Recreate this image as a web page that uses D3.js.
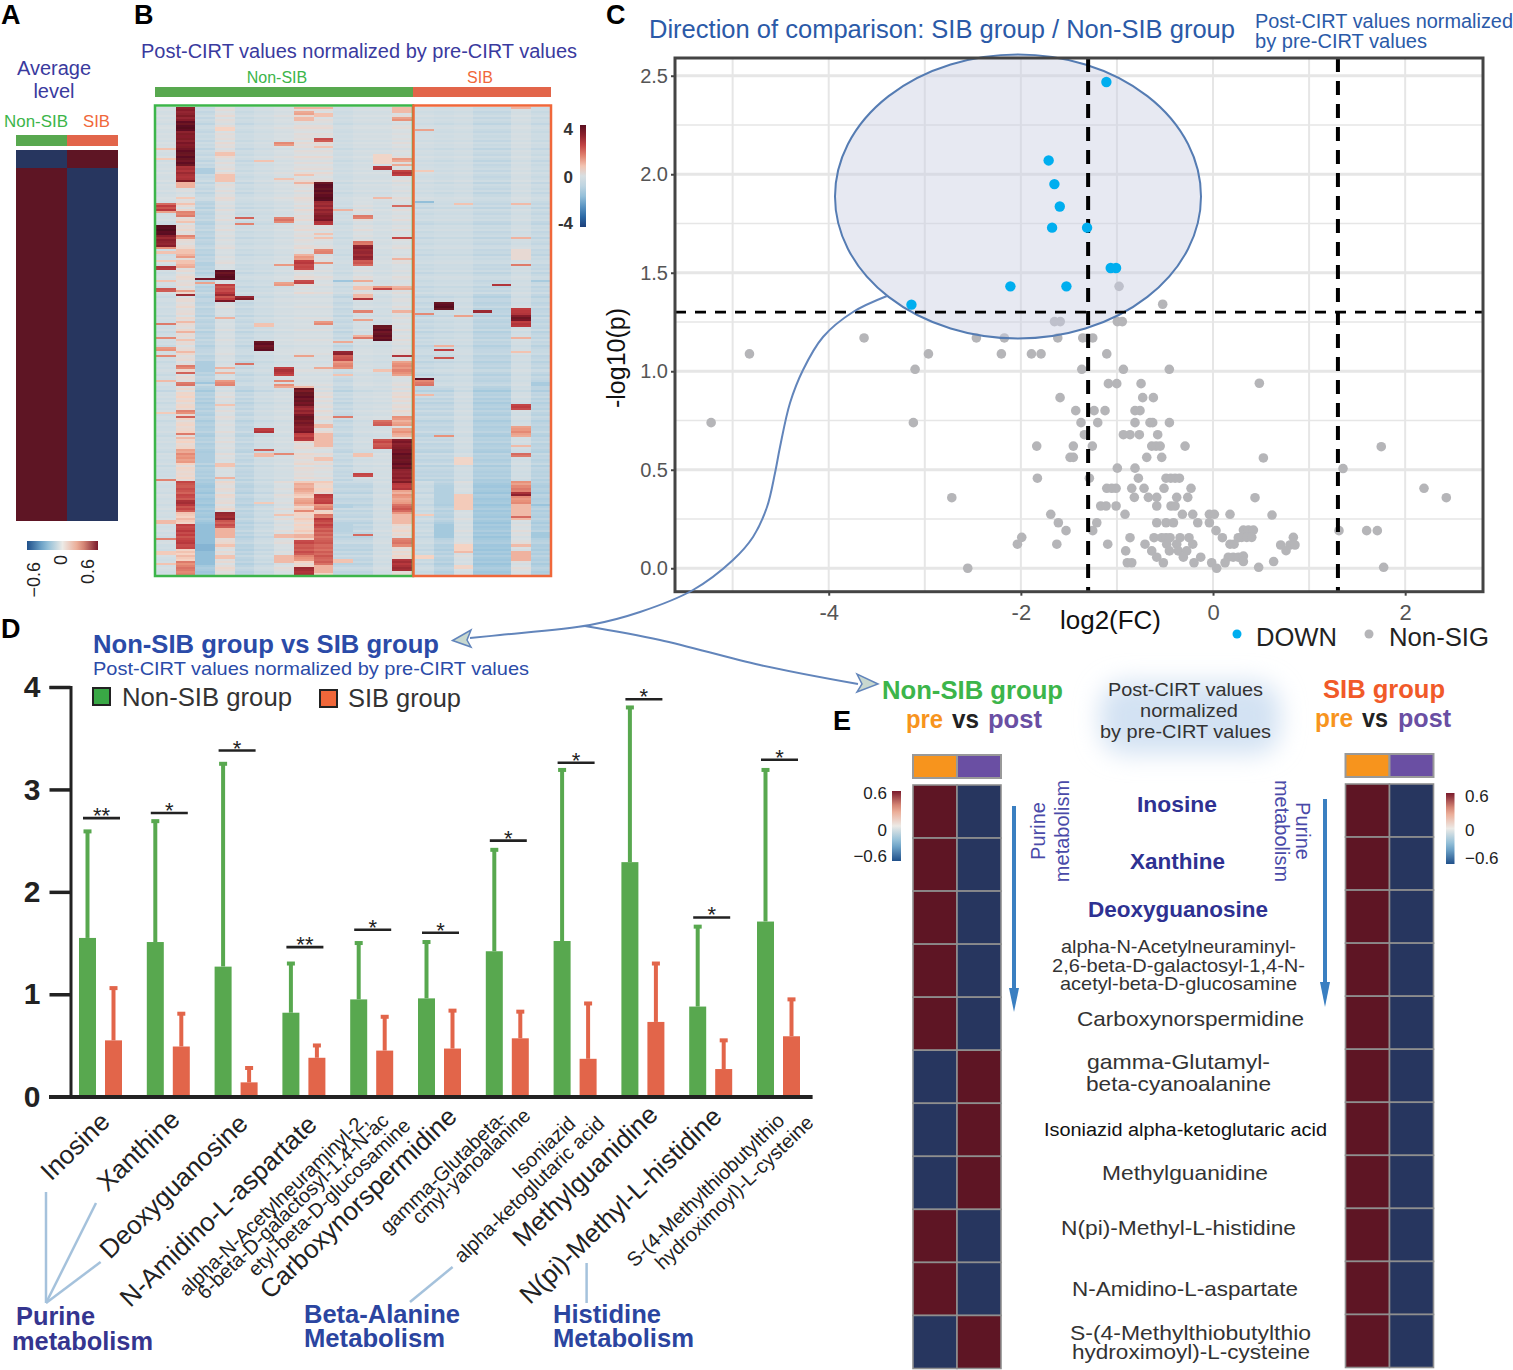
<!DOCTYPE html>
<html><head><meta charset="utf-8">
<script src="https://cdn.jsdelivr.net/npm/d3@7"></script>
<style>
html,body{margin:0;padding:0;background:#fff}
svg{display:block}
text{font-family:"Liberation Sans",Arial,sans-serif}
</style></head><body>
<svg id="c" width="1513" height="1370" viewBox="0 0 1513 1370"></svg>
<script>
/* ---------- DATA ---------- */
const groupNames = ["Non-SIB","SIB"];
const panelAValues = [[-0.7,0.7],[0.7,-0.7]];

const heatBands = [
 [-.2,-.3,-.4,-.4,-.3],[0,.2,.2,.4,.7],[-.6,-.8,-.8,-1,-1.3],[.1,0,-.1,0,.2],[-.5,-.5,-.6,-.7,-.8],
 [-.3,-.4,-.4,-.4,-.5],[-.1,-.2,-.2,-.2,0],[.1,.1,-.1,.2,.5],[.1,0,-.1,.1,.5],[-.4,-.4,-.6,-.6,-.7],
 [-.2,0,-.2,-.3,-.7],[-.2,-.2,-.3,-.2,-.3],[0,0,0,.2,.3],
 [-.3,-.5,-.6,-.7,-.5],[-.4,-.4,-.5,-.7,-.9],[-.3,-.4,-.4,-.3,-.1],[-.6,-.6,-.8,-1,-1.3],[-.6,-.6,-.8,-1,-1.3],[-.2,-.3,-.3,-.3,0],[-.5,-.6,-.7,-.8,-1]
];
const heatRowTone = [
 0,1,-1,0,2,-1,1,0,-2,1,2,0,-1,1,0,1,-1,2,0,1,-2,1,0,-1,2,0,-2,1,-1,0,
 1,-1,2,0,-1,0,2,-2,1,0,-1,1,-2,0,2,1,0,-1,1,-2,2,0,-1,1,0,2,-1,-2,1,0,
 2,-1,0,1,-2,1,0,-1,1,2,-1,0,-2,1,0,1,2,-1,0,-1,1,-2,0,2,1,-1,0,1,-2,0,
 -1,2,0,-2,1,1,-1,0,2,-1,0,1,-2,2,0,-1,1,0,-1,2,-2,0,1,-1,2,0,1,-2,0,1,
 1,2,-1,0,1,-2,0,1,-1,2,0,-2,1,0,-1,1,2,-1,0,-3,1,0,2,-1,1,-2,0,1,-1,2,
 0,-1,2,1,-2,0,1,-1,0,2,-1,-2,1,0,2,-1,0,1,-1,-2,2,0,1,-1,0,2,-2,1,0,-1,
 0,-1,1,-2,2,0,-1,1,0,-2,2,1,-1,0,1,-2,0,2,-1,1,0,-1,2,0,-2,1,-1,0,2,-1,
 1,-2,0,1,2,-1,0,-2,1,-1,2,0,-1,1,-2,0,2,1,-1,0];
const heatStripes = [
 [[20,21,.8],[25,26,.7],[47,48,2],[48,51,2.4],[51,52,1.2],[58,63,4],[63,69,3.2],[69,70,1.2],[71,72,.8],[75,76,.7],[78,80,2.8],[85,86,.8],[89,91,2.2],[106,107,1.6],[113,114,1.6],[118,120,1.3],[122,123,1.6],[134,135,.9],[150,151,.7],[183,184,1.8],[203,205,.9],[212,213,1.6],[218,220,.7],[224,225,.8]],
 [[0,7,3.2],[7,12,3.9],[12,20,3.3],[20,29,3.8],[29,36,2.8],[36,37,3.2],[37,40,1],[44,45,.7],[47,48,.8],[51,54,1.6],[56,57,.8],[63,65,1.5],[70,72,.8],[72,74,1.2],[75,77,.8],[77,79,1.1],[90,91,1.3],[92,93,3],[105,106,.9],[110,111,1],[114,115,.8],[120,121,.9],[127,129,1.6],[130,131,2],[135,137,1.6],[149,151,1.4],[152,153,1.8],[160,161,1.8],[162,163,.9],[168,175,1.3],[184,199,2.2],[193,196,2.8],[205,217,2.4],[223,230,1.6]],
 [[30,33,-1.1],[76,78,-1],[84,85,3.4],[86,87,1.2],[125,130,-1.1],[135,136,-1.4],[170,175,-1.1],[205,225,-1.6],[215,218,-1.8]],
 [[10,12,.6],[22,24,.8],[33,37,.8],[80,85,3.9],[87,95,2.4],[92,93,3],[95,96,3.4],[103,104,1],[128,129,1.1],[130,131,1],[134,137,1.4],[146,147,.8],[175,177,.8],[182,183,1],[199,203,3],[203,207,2.2],[207,212,1],[215,216,.8],[220,222,.8]],
 [[54,55,2],[57,58,1.8],[93,95,3.3],[126,127,1.8]],
 [[26,27,.8],[106,108,.8],[115,120,3.8],[158,160,2.5],[168,169,2.2],[170,172,.9],[194,195,.7]],
 [[17,19,1.3],[35,36,.8],[54,57,1.6],[77,78,1.4],[86,88,1.2],[128,132,2.6],[134,135,1.6],[136,138,1.2],[170,171,1.3],[200,201,.8],[210,212,.9],[220,224,.9]],
 [[0,1,1],[2,4,1.2],[5,7,.9],[33,34,.8],[37,38,1.2],[72,75,1.2],[75,80,2.4],[85,87,2.4],[122,123,1.3],[137,138,.9],[138,147,3.7],[147,151,3],[151,156,3.6],[156,160,3.3],[160,164,2.6],[185,190,1.1],[192,196,1.2],[198,199,1.6],[210,212,1],[213,220,2.2],[220,223,1.4],[226,230,2.8]],
 [[0,1,1],[3,5,.8],[15,17,2.2],[19,20,.8],[37,46,3.9],[46,52,3],[52,56,3.3],[56,58,2.8],[62,63,.8],[64,65,.8],[70,72,1.6],[76,77,1.2],[105,107,1.4],[128,129,1.2],[156,158,.9],[160,167,.9],[172,174,.8],[190,195,2.4],[195,198,1.5],[200,202,1.8],[202,207,2.4],[207,225,2],[225,229,1]],
 [[50,51,1],[85,86,-1.4],[115,116,1.1],[120,122,3],[122,125,2.2],[125,129,1.5],[131,132,.8],[152,153,1.5],[195,197,-1],[205,209,-.9],[222,224,.8]],
 [[53,55,1.6],[66,68,1.8],[68,75,3.1],[75,78,2],[85,86,1.2],[88,90,.8],[92,94,.9],[94,95,2.6],[100,101,1.6],[104,105,1.2],[112,113,1],[113,114,1.8],[170,172,.8],[180,182,2.4],[210,211,1.8]],
 [[23,28,.5],[29,31,2.6],[44,45,.9],[88,89,1.5],[89,90,2.4],[107,115,3.8],[129,130,.8],[154,157,2],[163,168,2.2]],
 [[0,3,.9],[5,7,1.3],[25,27,1.3],[28,29,1.2],[31,34,2.5],[48,49,1.8],[64,65,2.6],[74,75,1],[88,90,1.2],[100,101,1],[122,123,2.8],[125,132,1.4],[152,157,1.2],[158,162,1.2],[163,168,3.3],[168,178,3.7],[178,185,3.2],[185,188,2.6],[188,200,1.2],[195,199,2],[200,205,.9],[212,216,1.6],[222,228,2.8]],
 [[11,12,1.2],[31,32,.7],[46,47,-1.6],[101,102,1.4],[133,134,4],[134,137,1.6],[141,142,.9],[200,201,.7],[220,222,.6]],
 [[96,100,3.9],[117,118,1],[119,120,2.4],[123,124,2.2],[161,162,1.6],[186,195,-1],[205,212,-1.3]],
 [[47,48,.8],[102,103,1.4],[172,176,.5],[190,198,.7],[215,218,.6],[218,219,.9],[225,227,.5]],
 [[100,101,3]],
 [[87,88,2.6]],
 [[0,1,1],[47,48,.9],[64,65,1.2],[70,75,.3],[77,78,1.8],[99,102,2.6],[102,105,3.5],[105,108,2.6],[113,114,1],[120,121,.8],[146,149,2.4],[157,162,1.3],[166,167,.9],[170,172,1.7],[184,186,1.2],[186,189,1.6],[189,191,3],[191,195,1.4],[195,203,.9],[201,202,2],[215,216,.9],[218,223,1]],
 [[85,86,-1.2],[135,137,-1.2],[195,196,-1.5],[209,212,-1.3]]
];

const downPoints = [[-1.11,2.468],[-1.711,2.07],[-1.651,1.95],[-1.595,1.836],[-1.675,1.729],[-1.311,1.729],[-1.065,1.524],[-1.009,1.524],[-2.109,1.431],[-1.526,1.431],[-3.139,1.338]];
const nonSigPoints = [
 [-.978,1.431],[-.524,1.34],[-1.65,1.252],[-1.59,1.252],[-.996,1.252],[-.944,1.252],
 [-3.632,1.169],[-2.463,1.169],[-2.172,1.169],[-1.616,1.169],[-1.356,1.169],[-1.304,1.169],[-1.252,1.169],
 [-4.825,1.088],[-2.962,1.088],[-2.203,1.088],[-1.89,1.088],[-1.79,1.088],[-1.106,1.088],
 [-3.101,1.01],[-1.366,1.01],[-.933,1.01],[-.455,1.01],
 [-1.089,.937],[-1.002,.937],[-.749,.937],[.482,.939],
 [-1.592,.866],[-.732,.866],[-.621,.866],
 [-1.429,.8],[-1.238,.8],[-1.124,.8],[-.812,.8],[-.76,.8],
 [-5.224,.739],[-3.119,.739],[-1.374,.739],[-1.2,.739],[-.812,.739],[-.656,.739],[-.628,.739],[-.454,.739],
 [-1.339,.678],[-.933,.678],[-.864,.678],[-.767,.678],[-.576,.678],
 [-1.835,.62],[-1.454,.62],[-1.256,.62],[-.638,.62],[-.593,.62],[-.55,.62],[-.291,.62],[1.751,.617],
 [-1.488,.563],[-1.454,.563],[-.69,.563],[-.534,.563],[.524,.56],
 [-.996,.508],[-.812,.508],[1.353,.506],
 [-1.828,.457],[-1.287,.457],[-.777,.457],[-.489,.457],[-.44,.457],[-.395,.457],[-.35,.457],
 [-1.106,.406],[-1.054,.406],[-1.009,.406],[-.846,.406],[-.718,.406],[-.51,.406],[-.229,.406],[2.196,.406],
 [-2.719,.358],[-.819,.36],[-.673,.36],[-.586,.36],[-.378,.36],[-.263,.36],[.437,.358],[2.428,.358],
 [-1.169,.316],[-1.113,.316],[-1.009,.316],[-.586,.316],[-.437,.316],[-.395,.316],
 [-1.689,.274],[-.916,.274],[-.319,.274],[-.211,.274],[-.038,.274],[.014,.274],[.177,.274],[.614,.27],
 [-1.61,.231],[-1.21,.231],[-.586,.231],[-.489,.231],[-.412,.231],[-.159,.231],[-.038,.231],
 [-1.53,.191],[-1.252,.191],[.031,.191],[.316,.194],[.368,.194],[.42,.194],[1.311,.191],[1.599,.191],[1.71,.191],
 [-1.991,.157],[-.864,.155],[-.614,.155],[-.534,.155],[-.489,.155],[-.447,.155],[-.343,.155],[-.25,.155],[.097,.155],[.263,.155],[.298,.157],[.351,.157],[.403,.157],[.836,.157],
 [-2.036,.122],[-1.626,.122],[-1.096,.122],[-.708,.122],[-.482,.122],[-.378,.122],[-.211,.122],[.177,.122],[.219,.122],[.704,.118],[.801,.118],[.853,.118],
 [-.909,.088],[-.638,.088],[-.454,.088],[-.361,.088],[-.274,.088],[.76,.089],
 [-.586,.056],[-.309,.056],[-.128,.056],[.159,.056],[.21,.056],[.263,.056],[.316,.062],
 [-.892,.028],[-.846,.028],[-.517,.028],[-.198,.028],[-.014,.028],[.125,.028],[.316,.034],[.631,.034],
 [-2.553,0],[.038,0],[.475,.005],[1.776,.005]
];
const volcanoThresholdX = [-1.3,1.3];
const volcanoThresholdY = 1.3;

const barCategories = ["Inosine","Xanthine","Deoxyguanosine","N-Amidino-L-aspartate","alpha-N-Acetylneuraminyl-2,6-beta-D-galactosyl-1,4-N-acetyl-beta-D-glucosamine","Carboxynorspermidine","gamma-Glutabeta-cmyl-yanoalanine","Isoniazid alpha-ketoglutaric acid","Methylguanidine","N(pi)-Methyl-L-histidine","S-(4-Methylthiobutylthio hydroximoyl)-L-cysteine"];
const nonSibMean = [1.55,1.51,1.27,.82,.95,.96,1.42,1.52,2.29,.88,1.71];
const nonSibUpper = [2.6,2.7,3.26,1.31,1.51,1.52,2.42,3.2,3.81,1.67,3.2];
const sibMean = [.55,.49,.14,.38,.45,.47,.57,.37,.73,.27,.59];
const sibUpper = [1.07,.82,.29,.51,.79,.85,.84,.92,1.31,.56,.96];
const sigLevel = [2.72,2.77,3.38,1.46,1.63,1.6,2.5,3.26,3.88,1.75,3.29];
const sigMark = ["**","*","*","**","*","*","*","*","*","*","*"];

const nonSibPrePost = [.7,.7,.7,.7,.7,-.7,-.7,-.7,.7,.7,-.7];
const sibPrePost = [.7,.7,.7,.7,.7,.7,.7,.7,.7,.7,.7];

/* ---------- SETUP ---------- */
const svg = d3.select("#c");
svg.append("rect").attr("width",1513).attr("height",1370).attr("fill","#fff");
const defs = svg.append("defs");
const GREEN="#3cb54a", BARGREEN="#58a84f", ORANGE="#f0673a", BARORANGE="#e2654a", INK="#3a3a9e", BLUE="#2b5aa8";

function T(str,x,y,o={}){
  const e=(o.g||svg).append("text").attr("x",x).attr("y",y).text(str)
   .attr("font-size",o.s||16).attr("fill",o.c||"#222")
   .attr("text-anchor",o.a||"start");
  if(o.b) e.attr("font-weight","bold");
  if(o.w) e.attr("textLength",o.w).attr("lengthAdjust","spacingAndGlyphs");
  if(o.r!==undefined) e.attr("transform",`rotate(${o.r} ${x} ${y})`);
  if(o.dy) e.attr("dy",o.dy);
  return e;
}
const heatColor = d3.scaleLinear()
  .domain([-4,-3,-1.5,-.5,0,.6,1.4,2.5,3.4,4])
  .range(["#1d3f7a","#2f74b0","#9ac4dc","#ccdbe3","#d8dfe2","#f5d3c3","#e8917a","#bf3d40","#7f1a28","#5a0f20"]);
const cellColor = d3.scaleLinear()
  .domain([-.7,-.6,-.3,0,.3,.6,.7])
  .range(["#27365f","#20508a","#7fb5d5","#eceae6","#eb9f86","#7a1a2c","#5e1524"]);
function grad(id,color,dom,x2,y2){
  const g=defs.append("linearGradient").attr("id",id).attr("x1",0).attr("y1",0).attr("x2",x2).attr("y2",y2);
  d3.range(0,1.001,.1).forEach(t=>g.append("stop").attr("offset",t).attr("stop-color",color(dom[0]+(dom[1]-dom[0])*t)));
}
grad("gA",cellColor,[-.6,.6],1,0);
grad("gB",heatColor,[4,-4],0,1);
grad("gE",cellColor,[.6,-.6],0,1);

/* panel letters */
[["A",1,24],["B",134,24],["C",606,24],["D",1,638],["E",833,730]].forEach(d=>T(d[0],d[1],d[2],{s:27,b:1,c:"#000"}));

/* ---------- PANEL A ---------- */
T("Average",54,75,{s:20,c:INK,a:"middle"});
T("level",54,98,{s:20,c:INK,a:"middle"});
T("Non-SIB",4,127,{s:17,c:GREEN,w:64});
T("SIB",83,127,{s:17,c:ORANGE,w:27});
{
  const x=d3.scaleBand().domain(groupNames).range([16,118]);
  const rowH=[[150,168],[168,521]];
  groupNames.forEach((n,i)=>{
    svg.append("rect").attr("x",x(n)).attr("y",135).attr("width",x.bandwidth()).attr("height",11).attr("fill",i?BARORANGE:BARGREEN);
  });
  panelAValues.forEach((row,r)=>row.forEach((v,i)=>{
    svg.append("rect").attr("x",x(groupNames[i])).attr("y",rowH[r][0]).attr("width",x.bandwidth())
      .attr("height",rowH[r][1]-rowH[r][0]).attr("fill",cellColor(v));
  }));
  svg.append("rect").attr("x",27).attr("y",541).attr("width",71).attr("height",9).attr("fill","url(#gA)");
  const cb=d3.scaleLinear([-.6,.6],[34,88]);
  [[-.6,"−0.6",562],[0,"0",555],[.6,"0.6",559]].forEach(d=>{
    svg.append("text").attr("transform",`translate(${cb(d[0])+6},${d[2]}) rotate(-90)`)
      .attr("text-anchor","end").attr("font-size",18).attr("fill","#222").text(d[1]);
  });
}

/* ---------- PANEL B ---------- */
T("Post-CIRT values normalized by pre-CIRT values",141,58,{s:20,c:INK,w:436});
T("Non-SIB",277,83,{s:16,c:GREEN,a:"middle"});
T("SIB",480,83,{s:16,c:ORANGE,a:"middle"});
svg.append("rect").attr("x",155).attr("y",87).attr("width",258).attr("height",10).attr("fill",BARGREEN);
svg.append("rect").attr("x",413).attr("y",87).attr("width",138).attr("height",10).attr("fill",BARORANGE);
{
  const soft=defs.append("filter").attr("id","soft").attr("x","0").attr("y","0").attr("width","100%").attr("height","100%");
  soft.append("feGaussianBlur").attr("stdDeviation","0.5 0.45");
  const nonCols=d3.range(13), sibCols=d3.range(13,20), rows=d3.range(230);
  const xN=d3.scaleBand().domain(nonCols).range([156,412]);
  const xS=d3.scaleBand().domain(sibCols).range([415,550]);
  const y=d3.scaleBand().domain(rows).range([107,575]);
  const gH=svg.append("g").attr("shape-rendering","crispEdges").attr("filter","url(#soft)");
  const cells=[];
  heatBands.forEach((b,c)=>{
    const col=rows.map(r=>b[Math.min(4,Math.floor(r/46))]+heatRowTone[r]*.1);
    heatStripes[c].forEach(s=>{ for(let r=s[0];r<s[1];r++) col[r]=s[2]+(s[2]>1?heatRowTone[r]*.1:0); });
    col.forEach((v,r)=>cells.push({c,r,v}));
  });
  gH.selectAll("rect").data(cells).join("rect")
    .attr("x",d=>d.c<13?xN(d.c):xS(d.c))
    .attr("y",d=>y(d.r))
    .attr("width",d=>(d.c<13?xN:xS).bandwidth()+.5)
    .attr("height",y.bandwidth()+.5)
    .attr("fill",d=>heatColor(d.v));
  svg.append("rect").attr("x",155).attr("y",105.5).attr("width",258).attr("height",470.5).attr("fill","none").attr("stroke",GREEN).attr("stroke-width",2.5);
  svg.append("rect").attr("x",413.5).attr("y",105.5).attr("width",137.5).attr("height",470.5).attr("fill","none").attr("stroke",ORANGE).attr("stroke-width",2.5);
  svg.append("rect").attr("x",580).attr("y",125).attr("width",6).attr("height",102).attr("fill","url(#gB)");
  [["4",135],["0",183],["-4",229]].forEach(d=>T(d[0],573,d[1],{s:17,b:1,c:"#333",a:"end"}));
}

/* ---------- PANEL C ---------- */
T("Direction of comparison: SIB group / Non-SIB group",649,38,{s:25,c:BLUE,w:586});
T("Post-CIRT values normalized",1255,28,{s:19.5,c:BLUE,w:258});
T("by pre-CIRT values",1255,48,{s:19.5,c:BLUE,w:172});
const xV=d3.scaleLinear([-5.6,2.81],[675,1483]);
const yV=d3.scaleLinear([-.119,2.59],[591.7,58]);
{
  const gridC="#e6e6e6";
  const g=svg.append("g");
  [-5,-4,-3,-2,-1,0,1,2].forEach(v=>g.append("line").attr("x1",xV(v)).attr("x2",xV(v)).attr("y1",58).attr("y2",591).attr("stroke",gridC).attr("stroke-width",2));
  [.25,.75,1.25,1.75,2.25].forEach(v=>g.append("line").attr("x1",675).attr("x2",1483).attr("y1",yV(v)).attr("y2",yV(v)).attr("stroke",gridC).attr("stroke-width",1.5));
  [0,.5,1,1.5,2,2.5].forEach(v=>g.append("line").attr("x1",675).attr("x2",1483).attr("y1",yV(v)).attr("y2",yV(v)).attr("stroke",gridC).attr("stroke-width",3));

  svg.append("g").selectAll("circle").data(nonSigPoints).join("circle")
    .attr("cx",d=>xV(d[0])).attr("cy",d=>yV(d[1])).attr("r",4.8).attr("fill","#b5b5b8");

  svg.append("ellipse").attr("cx",1018).attr("cy",196.5).attr("rx",183).attr("ry",142)
    .attr("fill","#c9cfe3").attr("fill-opacity",.45).attr("stroke","#557cb3").attr("stroke-width",2);

  volcanoThresholdX.forEach(v=>svg.append("line").attr("x1",xV(v)).attr("x2",xV(v)).attr("y1",58).attr("y2",591)
     .attr("stroke","#000").attr("stroke-width",4).attr("stroke-dasharray","14 9"));
  svg.append("line").attr("x1",675).attr("x2",1483).attr("y1",yV(volcanoThresholdY)).attr("y2",yV(volcanoThresholdY))
     .attr("stroke","#000").attr("stroke-width",2.6).attr("stroke-dasharray","11 9");

  svg.append("g").selectAll("circle").data(downPoints).join("circle")
    .attr("cx",d=>xV(d[0])).attr("cy",d=>yV(d[1])).attr("r",5.2).attr("fill","#00aeef");

  svg.append("rect").attr("x",675).attr("y",58).attr("width",808).attr("height",533.7).attr("fill","none").attr("stroke","#444").attr("stroke-width",3);

  const ax=svg.append("g").attr("transform","translate(0,591.7)").call(d3.axisBottom(xV).tickValues([-4,-2,0,2]).tickSize(4).tickPadding(9).tickFormat(d=>String(d).replace("−","-")));
  ax.select(".domain").remove();
  ax.selectAll("line").attr("stroke","#444").attr("stroke-width",2);
  ax.selectAll("text").attr("font-size",22).attr("fill","#555").attr("font-family",'"Liberation Sans"');
  const ay=svg.append("g").attr("transform","translate(675,0)").call(d3.axisLeft(yV).tickValues([0,.5,1,1.5,2,2.5]).tickSize(4).tickPadding(3).tickFormat(d3.format(".1f")));
  ay.select(".domain").remove();
  ay.selectAll("line").attr("stroke","#444").attr("stroke-width",2);
  ay.selectAll("text").attr("font-size",20).attr("fill","#555").attr("font-family",'"Liberation Sans"');

  T("log2(FC)",1060,629,{s:25.5,c:"#111",w:101});
  svg.append("text").attr("transform","translate(625,358) rotate(-90)").attr("text-anchor","middle").attr("font-size",25).attr("fill","#111").text("-log10(p)");
  svg.append("circle").attr("cx",1237).attr("cy",634).attr("r",4.5).attr("fill","#00aeef");
  T("DOWN",1256,646,{s:25,c:"#222",w:81});
  svg.append("circle").attr("cx",1369).attr("cy",634).attr("r",4.5).attr("fill","#b5b5b8");
  T("Non-SIG",1389,646,{s:25,c:"#222",w:100});
}

/* connector curves */
{
  const line=d3.line().curve(d3.curveCatmullRom.alpha(.5));
  const pts1=[[887,296],[853,312],[823,337],[803,370],[790,403],[780,447],[775,473],[767,507],[753,537],[733,560],[693,590],[640,612],[590,625],[500,635],[470,638]];
  const pts2=[[585,626],[660,640],[760,665],[858,684]];
  [pts1,pts2].forEach(p=>svg.append("path").attr("d",line(p)).attr("fill","none").attr("stroke","#6285bb").attr("stroke-width",2));
  [[[452.6,640.5],[471,630],[467,640],[471,647]],[[878,684],[857,674],[862,684],[857,692]]].forEach(p=>
    svg.append("path").attr("d",d3.line()(p)+"Z").attr("fill","#c8d8cf").attr("stroke","#6285bb").attr("stroke-width",1.5));
}

/* ---------- PANEL D ---------- */
T("Non-SIB group vs SIB group",93,653,{s:25,b:1,c:"#2b4ba8",w:346});
T("Post-CIRT values normalized by pre-CIRT values",93,675,{s:19,c:"#2b4ba8",w:436});
svg.append("rect").attr("x",93).attr("y",688).attr("width",17).attr("height",17).attr("fill","#39a845").attr("stroke","#222").attr("stroke-width",2);
T("Non-SIB group",122,706,{s:25,c:"#333",w:170});
svg.append("rect").attr("x",320).attr("y",690).attr("width",17).attr("height",17).attr("fill",ORANGE).attr("stroke","#222").attr("stroke-width",2);
T("SIB group",348,707,{s:25,c:"#333",w:113});
{
  const yD=d3.scaleLinear([0,4],[1096.7,687]);
  const xD=d3.scaleBand().domain(barCategories).range([66.6,812.4]);
  const xIn=d3.scalePoint().domain(groupNames).range([-13,13]);
  const bw=17;
  const series=[{n:"Non-SIB",m:nonSibMean,u:nonSibUpper,c:BARGREEN},{n:"SIB",m:sibMean,u:sibUpper,c:BARORANGE}];
  series.forEach(s=>{
    const g=svg.append("g");
    barCategories.forEach((cat,i)=>{
      const cx=xD(cat)+xD.bandwidth()/2+xIn(s.n);
      g.append("rect").attr("x",cx-bw/2).attr("y",yD(s.m[i])).attr("width",bw).attr("height",yD(0)-yD(s.m[i])).attr("fill",s.c);
      g.append("line").attr("x1",cx).attr("x2",cx).attr("y1",yD(s.m[i])).attr("y2",yD(s.u[i])).attr("stroke",s.c).attr("stroke-width",4);
      g.append("rect").attr("x",cx-4).attr("y",yD(s.u[i])-1).attr("width",8).attr("height",4).attr("fill",s.c);
    });
  });
  barCategories.forEach((cat,i)=>{
    const cx=xD(cat)+xD.bandwidth()/2+1;
    svg.append("line").attr("x1",cx-18.5).attr("x2",cx+18.5).attr("y1",yD(sigLevel[i])).attr("y2",yD(sigLevel[i])).attr("stroke","#222").attr("stroke-width",2.6);
    T(sigMark[i],cx,yD(sigLevel[i])+5,{s:22,c:"#222",a:"middle"});
  });
  const ax=svg.append("g").attr("transform","translate(70.5,0)").call(d3.axisLeft(yD).tickValues([0,1,2,3,4]).tickSize(21).tickPadding(9).tickFormat(d3.format("d")));
  ax.select(".domain").attr("stroke","#222").attr("stroke-width",3);
  ax.selectAll("line").attr("stroke","#222").attr("stroke-width",3.5);
  ax.selectAll("text").attr("font-size",30).attr("font-weight","bold").attr("fill","#222").attr("font-family",'"Liberation Sans"');
  svg.append("line").attr("x1",49).attr("x2",812.6).attr("y1",1097).attr("y2",1097).attr("stroke","#222").attr("stroke-width",4);

  /* rotated category labels: [text, end x, end y, size] */
  const big=26, small=20;
  [["Inosine",105,1117,big],["Xanthine",175,1115,big],["Deoxyguanosine",243,1119,big],["N-Amidino-L-aspartate",312,1120,big],
   ["alpha-N-Acetylneuraminyl-2,",364,1117,small],["6-beta-D-galactosyl-1,4-N-ac",385,1117,small],["etyl-beta-D-glucosamine",407,1122,small],
   ["Carboxynorspermidine",452,1112,big],["gamma-Glutabeta-",503,1114,small],["cmyl-yanoalanine",527,1112,small],
   ["Isoniazid",572,1120,small],["alpha-ketoglutaric acid",601,1120,small],["Methylguanidine",653,1110,big],["N(pi)-Methyl-L-histidine",717,1112,big],
   ["S-(4-Methylthiobutylthio",781,1117,small],["hydroximoyl)-L-cysteine",810,1119,small]].forEach(d=>{
     T(d[0],d[1],d[2],{s:d[3],c:"#222",a:"end",r:-44,dy:".35em"});
   });
  [[[46,1303],[46,1192]],[[46,1303],[96,1203]],[[46,1303],[100.6,1262]],[[452.6,1267],[410,1302]],[[586.6,1263],[586.6,1303]]].forEach(p=>
    svg.append("path").attr("d",d3.line()(p)).attr("stroke","#a5c2dc").attr("stroke-width",2.5).attr("fill","none"));
  T("Purine",16,1325,{s:25,b:1,c:"#35358f",w:79});
  T("metabolism",12,1350,{s:25,b:1,c:"#35358f",w:141});
  T("Beta-Alanine",304,1323,{s:25,b:1,c:"#2b45a0",w:156});
  T("Metabolism",304,1347,{s:25,b:1,c:"#2b45a0",w:141});
  T("Histidine",553,1323,{s:25,b:1,c:"#2b45a0",w:108});
  T("Metabolism",553,1347,{s:25,b:1,c:"#2b45a0",w:141});
}

/* ---------- PANEL E ---------- */
{
  const f=defs.append("filter").attr("id","blur").attr("x","-40%").attr("y","-50%").attr("width","180%").attr("height","200%");
  f.append("feGaussianBlur").attr("stdDeviation",12);
  svg.append("rect").attr("x",1100).attr("y",682).attr("width",180).attr("height",72).attr("rx",25).attr("fill","#d3e2f3").attr("filter","url(#blur)");

  T("Non-SIB group",882,699,{s:25,b:1,c:GREEN,w:181});
  T("pre",906,728,{s:25,b:1,c:"#f7941d",w:37});
  T("vs",952,728,{s:25,b:1,c:"#222",w:27});
  T("post",988,728,{s:25,b:1,c:"#6a4fa3",w:54});
  T("SIB group",1323,698,{s:25,b:1,c:"#f15a29",w:122});
  T("pre",1315,727,{s:25,b:1,c:"#f7941d",w:38});
  T("vs",1362,727,{s:25,b:1,c:"#222",w:26});
  T("post",1398,727,{s:25,b:1,c:"#6a4fa3",w:53});
  T("Post-CIRT values",1108,696,{s:19,c:"#333",w:155});
  T("normalized",1140,717,{s:19,c:"#333",w:98});
  T("by pre-CIRT values",1100,738,{s:19,c:"#333",w:171});

  function heat(x0,y0,boxY,vals){
    const x=d3.scaleBand().domain([0,1]).range([x0,x0+88]);
    const y=d3.scaleBand().domain(d3.range(vals.length)).range([y0,y0+583.5]);
    ["#f7941d","#6a4fa3"].forEach((c,i)=>svg.append("rect").attr("x",x(i)).attr("y",boxY).attr("width",44).attr("height",23).attr("fill",c).attr("stroke","#999").attr("stroke-width",2));
    vals.forEach((v,r)=>[v,-v].forEach((w,i)=>svg.append("rect").attr("x",x(i)).attr("y",y(r)).attr("width",44).attr("height",y.bandwidth())
      .attr("fill",cellColor(w)).attr("stroke","#8f8f8f").attr("stroke-width",1.6)));
  }
  heat(913,785,755,nonSibPrePost);
  heat(1345.5,784,754,sibPrePost);

  svg.append("rect").attr("x",892).attr("y",791).attr("width",9).attr("height",70).attr("fill","url(#gE)");
  [["0.6",799],["0",836],["−0.6",862]].forEach(d=>T(d[0],887,d[1],{s:17,c:"#222",a:"end"}));
  svg.append("rect").attr("x",1446).attr("y",793).attr("width",8.5).attr("height",71).attr("fill","url(#gE)");
  [["0.6",802],["0",836],["−0.6",864]].forEach(d=>T(d[0],1465,d[1],{s:17,c:"#222"}));

  [[1014,806,988,1012],[1325,799,982,1007]].forEach(a=>{
    svg.append("line").attr("x1",a[0]).attr("x2",a[0]).attr("y1",a[1]).attr("y2",a[2]+2).attr("stroke","#3a7fc1").attr("stroke-width",4);
    svg.append("path").attr("d",d3.line()([[a[0]-5,a[2]],[a[0]+5,a[2]],[a[0],a[3]]])+"Z").attr("fill","#3a7fc1");
  });
  const rot=(s,x,y,r)=>svg.append("text").attr("transform",`translate(${x},${y}) rotate(${r})`).attr("text-anchor","middle").attr("font-size",20).attr("fill","#4a4aa8").text(s);
  rot("Purine",1045,831,-90); rot("metabolism",1069,831,-90);
  rot("metabolism",1275,831,90); rot("Purine",1296,831,90);

  const K="#333", V="#2e3192";
  [["Inosine",1137,812,22,1,V,80],["Xanthine",1130,869,22,1,V,95],["Deoxyguanosine",1088,917,22,1,V,180],
   ["alpha-N-Acetylneuraminyl-",1061,953,18.5,0,K,235],["2,6-beta-D-galactosyl-1,4-N-",1052,972,18.5,0,K,253],["acetyl-beta-D-glucosamine",1060,990,18.5,0,K,237],
   ["Carboxynorspermidine",1077,1026,21,0,K,227],["gamma-Glutamyl-",1087,1069,21,0,K,183],["beta-cyanoalanine",1086,1091,21,0,K,185],
   ["Isoniazid alpha-ketoglutaric acid",1044,1136,18,0,"#111",283],["Methylguanidine",1102,1180,21,0,K,166],["N(pi)-Methyl-L-histidine",1061,1235,21,0,K,235],
   ["N-Amidino-L-aspartate",1072,1296,21,0,K,226],["S-(4-Methylthiobutylthio",1070,1340,20.5,0,K,241],["hydroximoyl)-L-cysteine",1072,1359,20.5,0,K,238]
  ].forEach(d=>T(d[0],d[1],d[2],{s:d[3],b:d[4],c:d[5],w:d[6]}));
}
</script>
</body></html>
